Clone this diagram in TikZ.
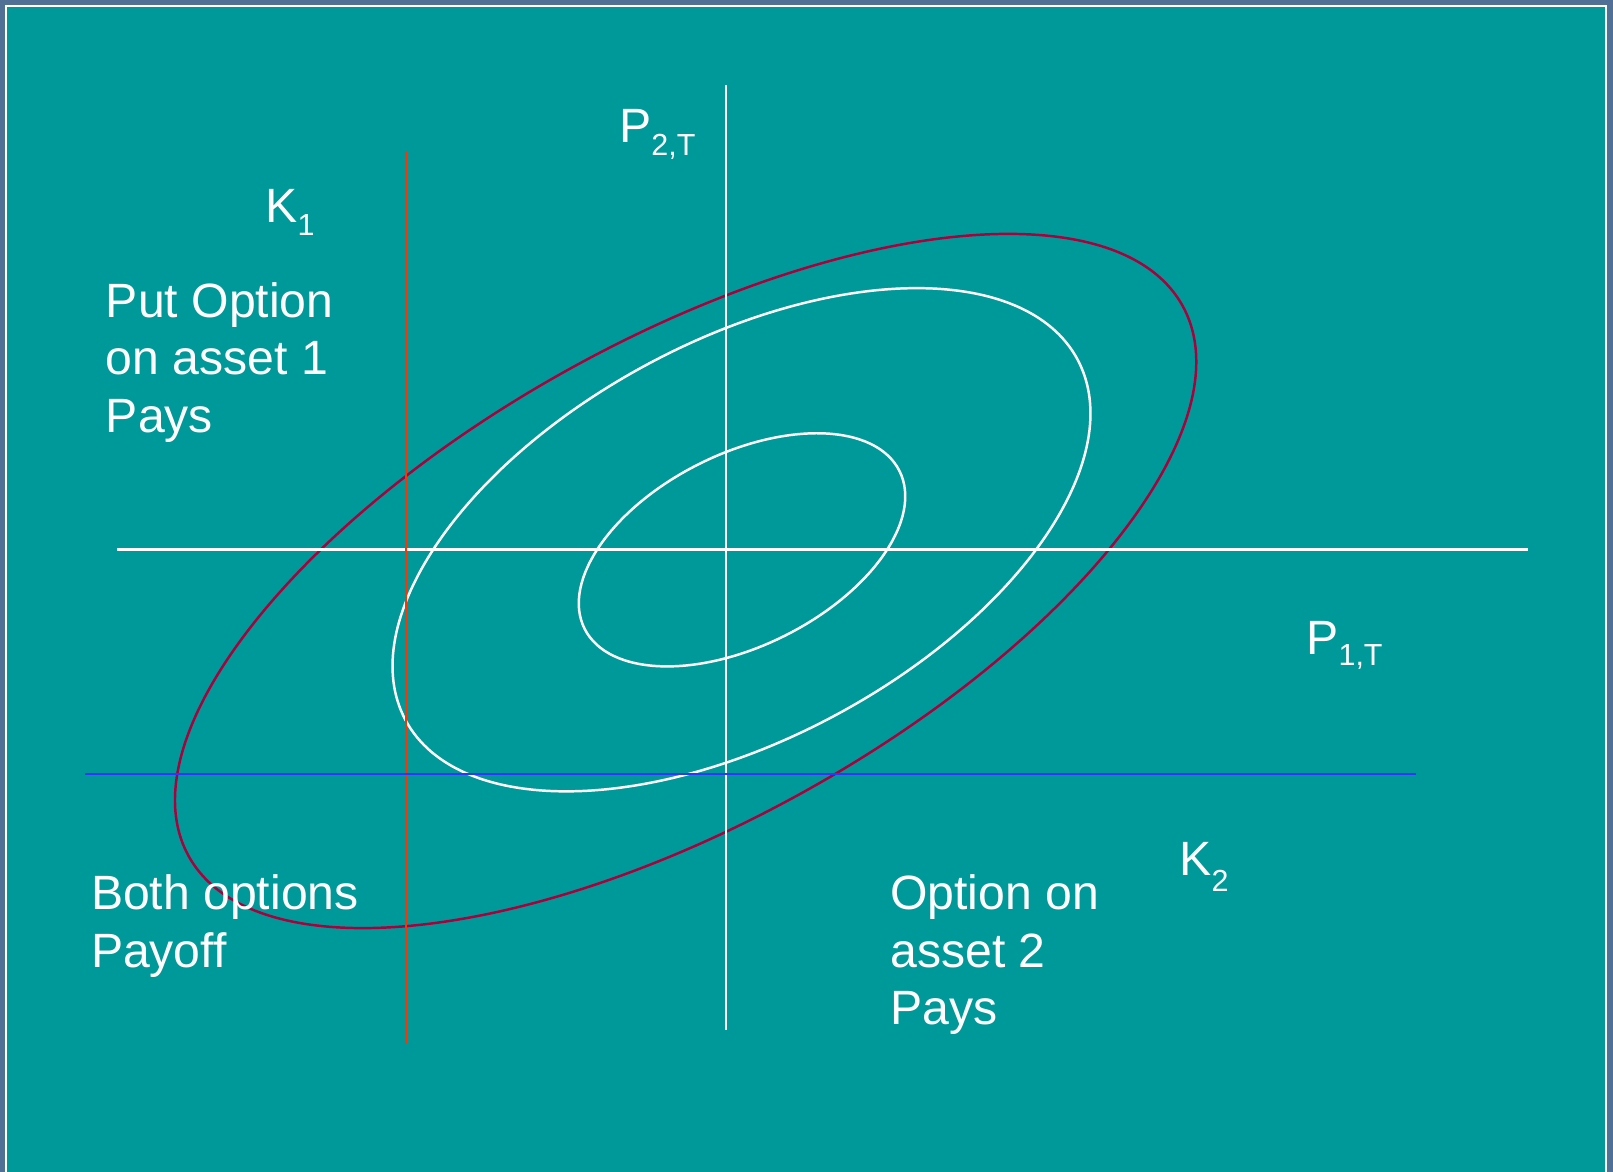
\documentclass[tikz,border=0pt]{standalone}
\usepackage{fontspec}
\setmainfont{Liberation Sans}
\definecolor{frameblue}{RGB}{80,112,150}
\definecolor{bgteal}{RGB}{0,153,153}
\definecolor{crimson}{RGB}{170,0,60}
\definecolor{strikered}{RGB}{255,51,0}
\definecolor{strikeblue}{RGB}{51,51,255}
\newcommand{\mysub}[2]{\lower#1\hbox{\fontsize{14.8pt}{14.8pt}\selectfont #2}}
\begin{document}
\begin{tikzpicture}[x=0.5pt,y=0.5pt,
  lbl/.style={anchor=base west,inner sep=0pt,outer sep=0pt,text=white,align=left,
    font=\fontsize{23.4pt}{27.75pt}\selectfont},
  axisline/.style={white,line width=1.2pt},
  contour/.style={white,line width=1.2pt}]
% frame and background
\fill[frameblue] (0,0) rectangle (1568,1139);
\fill[white] (4.9,0) rectangle (1562.2,1134.1);
\fill[bgteal] (6.8,0) rectangle (1560.2,1132.2);
\useasboundingbox (0,0) rectangle (1568,1139);
% coordinates for lines
\coordinate (k1top) at (394.7,992);
\coordinate (k1bot) at (394.7,124);
\coordinate (p2top) at (705.8,1056);
\coordinate (p2bot) at (705.8,138);
\coordinate (p1left) at (114,604.6);
\coordinate (p1right) at (1485,604.6);
\coordinate (k2left) at (83,386.6);
\coordinate (k2right) at (1376,386.6);
% contours
\draw[crimson,line width=1.2pt,rotate around={28.98:(666.5,574.2)}] (666.5,574.2) ellipse (552.2 and 235.0);
\draw[contour,rotate around={28.24:(720.8,614.3)}] (720.8,614.3) ellipse (370.7 and 193.5);
\draw[contour,rotate around={26.62:(721.3,604.5)}] (721.3,604.5) ellipse (171.2 and 93.3);
% axes and strikes
\draw[axisline] (p2top) -- (p2bot);
\draw[axisline] (p1left) -- (p1right);
\draw[strikered,line width=1.2pt] (k1top) -- (k1bot);
\draw[strikeblue,line width=1.2pt] (k2left) -- (k2right);
% labels
\node[lbl] (lK1) at (258,923) {K\mysub{6.25pt}{1}};
\node[lbl] (lP2) at (602,1000) {P\mysub{5.85pt}{2,T}};
\node[lbl] (lP1) at (1270,503.2) {P\mysub{5.6pt}{1,T}};
\node[lbl] (lK2) at (1146.5,288.4) {K\mysub{8pt}{2}};
\node[lbl] (lput) at (103,719) {Put Option\\on asset 1\\Pays};
\node[lbl] (lboth) at (88.5,198.9) {Both options\\Payoff};
\node[lbl] (lopt) at (865.5,143.4) {Option on\\asset 2\\Pays};
\end{tikzpicture}
\end{document}
